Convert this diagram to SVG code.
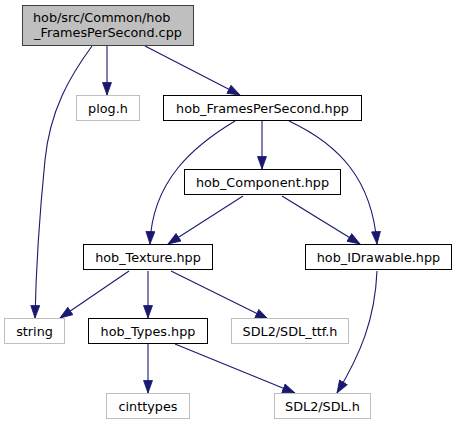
<svg xmlns="http://www.w3.org/2000/svg" width="457" height="425" viewBox="0 0 457 425">
<style>
text{font-family:"DejaVu Sans","Liberation Sans",sans-serif;font-size:12.8px;fill:#000;text-anchor:middle}
.n rect{fill:#fff;stroke:#000;stroke-width:1}
.x rect{fill:#fff;stroke:#bfbfbf;stroke-width:1}
.r rect{fill:#bfbfbf;stroke:#404040;stroke-width:1}
#edges path{fill:none;stroke:#191970;stroke-width:1.1;marker-end:url(#ah)}
</style>
<defs>
<marker id="ah" markerUnits="userSpaceOnUse" markerWidth="14" markerHeight="10" refX="13" refY="5" orient="auto">
<path d="M0.5,0.5 L13,5 L0.5,9.5 z" fill="#191970" stroke="#191970" stroke-width="0.8"/>
</marker>
</defs>
<rect width="457" height="425" fill="#fff"/>
<g id="edges">
<path d="M92,46 C70,76 50,110 45,160 C40,210 36,270 35,318"/>
<path d="M107,46 L107,95"/>
<path d="M145,46 L240,95"/>
<path d="M235,121 C195,145 152,180 150,244"/>
<path d="M262,121 L262,169"/>
<path d="M289,121 C340,145 372,180 377,244"/>
<path d="M243,196 L168,244"/>
<path d="M282,196 L360,244"/>
<path d="M129,271 L60,318"/>
<path d="M148,271 L148,318"/>
<path d="M171,271 L268,319"/>
<path d="M175,344 L295,393"/>
<path d="M377,271 C375,320 360,355 337,393"/>
<path d="M148,344 L148,393"/>
</g>
<g id="root" class="r"><rect x="22.5" y="5.5" width="171" height="40"/><text x="33" y="22" style="text-anchor:start">hob/src/Common/hob</text><text x="108" y="37">_FramesPerSecond.cpp</text></g>
<g id="plog" class="x"><rect x="76.5" y="95.5" width="63" height="25"/><text x="108" y="112.5">plog.h</text></g>
<g id="fps" class="n"><rect x="163.5" y="95.5" width="198" height="25"/><text x="262.5" y="112.5">hob_FramesPerSecond.hpp</text></g>
<g id="component" class="n"><rect x="184.5" y="169.5" width="156" height="25"/><text x="262.5" y="186.5">hob_Component.hpp</text></g>
<g id="texture" class="n"><rect x="83.5" y="244.5" width="129" height="25"/><text x="148" y="261.5">hob_Texture.hpp</text></g>
<g id="idrawable" class="n"><rect x="305.5" y="244.5" width="146" height="25"/><text x="378.5" y="261.5">hob_IDrawable.hpp</text></g>
<g id="string" class="x"><rect x="4.5" y="318.5" width="60" height="25"/><text x="34.5" y="335.5">string</text></g>
<g id="types" class="n"><rect x="88.5" y="318.5" width="119" height="25"/><text x="148" y="335.5">hob_Types.hpp</text></g>
<g id="sdlttf" class="x"><rect x="231.5" y="318.5" width="117" height="25"/><text x="290" y="335.5">SDL2/SDL_ttf.h</text></g>
<g id="cinttypes" class="x"><rect x="106.5" y="393.5" width="83" height="25"/><text x="148" y="410.5">cinttypes</text></g>
<g id="sdl" class="x"><rect x="274.5" y="393.5" width="96" height="25"/><text x="322.5" y="410.5">SDL2/SDL.h</text></g>
</svg>
